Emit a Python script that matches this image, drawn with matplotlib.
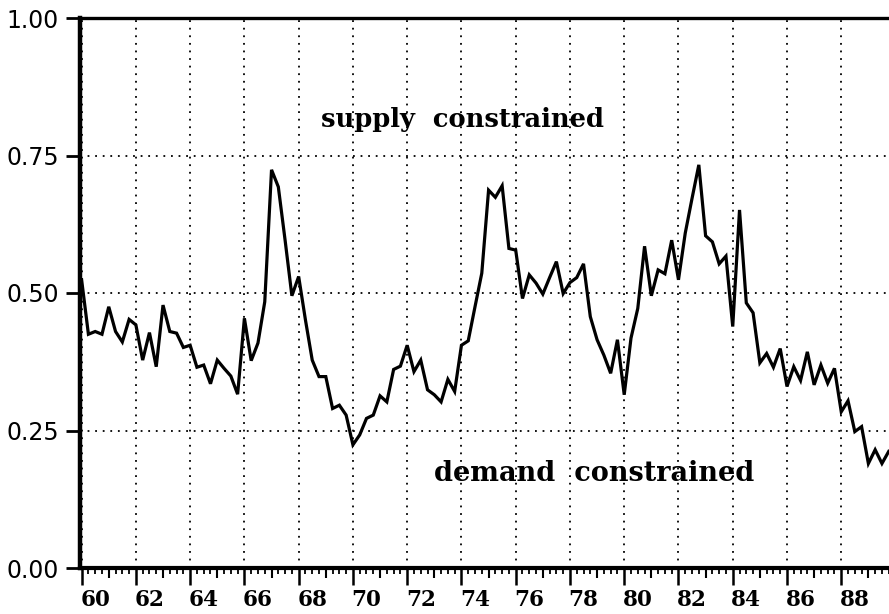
import numpy as np
import matplotlib
matplotlib.use("Agg")
import matplotlib.pyplot as plt

# ---- data (quarterly, 1960Q1 .. 1989Q4) ----
start_year = 1960
ratio = [
    0.524, 0.425, 0.430, 0.425,   # 60
    0.475, 0.430, 0.411, 0.452,   # 61
    0.442, 0.378, 0.428, 0.366,   # 62
    0.478, 0.430, 0.427, 0.401,   # 63
    0.405, 0.365, 0.369, 0.335,   # 64
    0.378, 0.363, 0.349, 0.316,   # 65
    0.454, 0.377, 0.409, 0.484,   # 66
    0.724, 0.693, 0.596, 0.495,   # 67
    0.530, 0.451, 0.378, 0.348,   # 68
    0.348, 0.290, 0.296, 0.278,   # 69
    0.224, 0.242, 0.272, 0.278,   # 70
    0.313, 0.302, 0.361, 0.367,   # 71
    0.405, 0.357, 0.378, 0.324,   # 72
    0.315, 0.302, 0.343, 0.321,   # 73
    0.405, 0.413, 0.475, 0.536,   # 74
    0.687, 0.674, 0.695, 0.581,   # 75
    0.578, 0.490, 0.533, 0.518,   # 76
    0.498, 0.528, 0.557, 0.499,   # 77
    0.519, 0.528, 0.553, 0.457,   # 78
    0.415, 0.387, 0.354, 0.415,   # 79
    0.315, 0.418, 0.472, 0.585,   # 80
    0.495, 0.542, 0.535, 0.596,   # 81
    0.524, 0.609, 0.672, 0.733,   # 82
    0.604, 0.593, 0.553, 0.567,   # 83
    0.439, 0.651, 0.482, 0.464,   # 84
    0.373, 0.390, 0.365, 0.399,   # 85
    0.330, 0.366, 0.341, 0.393,   # 86
    0.333, 0.369, 0.336, 0.363,   # 87
    0.284, 0.304, 0.248, 0.257,   # 88
    0.190, 0.215, 0.190, 0.212,   # 89
]
x_labels = ["60", "62", "64", "66", "68", "70", "72", "74", "76", "78",
            "80", "82", "84", "86", "88"]
y_ticks = [0.00, 0.25, 0.50, 0.75, 1.00]
y_labels = ["0.00", "0.25", "0.50", "0.75", "1.00"]
annot_top = "supply  constrained"
annot_bottom = "demand  constrained"

t = start_year + np.arange(len(ratio)) * 0.25

fig = plt.figure(figsize=(8.89, 6.14), dpi=100)
ax = fig.add_axes([80 / 889, 1 - 568 / 614, 1 - 80 / 889, (568 - 18) / 614])

ax.plot(t, ratio, color="black", lw=2.3, solid_joinstyle="miter", zorder=3)

ax.set_xlim(1959.94, 1989.76)
ax.set_ylim(0, 1)

# y axis
ax.set_yticks(y_ticks)
ax.set_yticklabels(y_labels, fontsize=17, family="DejaVu Sans")
ax.tick_params(axis="y", direction="out", length=10, width=2, pad=5, color="black")

# x axis: even-year long ticks (gridlines), quarter minor ticks
even_years = np.arange(1960, 1990, 2)
ax.set_xticks(even_years)
ax.set_xticklabels([])
ax.set_xticks(np.arange(1960, 1990, 0.25), minor=True)
ax.tick_params(axis="x", which="major", direction="out", length=12, width=1.8)
ax.tick_params(axis="x", which="minor", direction="out", length=4, width=1.3)

# odd-year medium ticks
sec_odd = ax.secondary_xaxis("bottom")
sec_odd.set_xticks(np.arange(1961, 1990, 2))
sec_odd.set_xticklabels([])
sec_odd.tick_params(length=7, width=1.5, direction="out")
for s in sec_odd.spines.values():
    s.set_visible(False)

# labels centred on mid-year
sec_lab = ax.secondary_xaxis("bottom")
sec_lab.set_xticks(even_years + 0.5)
sec_lab.set_xticklabels(x_labels, fontsize=15.5, family="DejaVu Serif", fontweight="bold")
sec_lab.tick_params(length=0, pad=15)
for s in sec_lab.spines.values():
    s.set_visible(False)

ax.grid(True, which="major", color="black", linestyle=(0, (1, 3.2)), linewidth=1.3)
ax.set_axisbelow(True)

ax.spines["left"].set_linewidth(3.2)
ax.spines["bottom"].set_linewidth(3.0)
ax.spines["top"].set_linewidth(2.4)
ax.spines["right"].set_visible(False)

ax.text(1974.05, 0.815, annot_top, ha="center", va="center",
        fontsize=18.5, family="DejaVu Serif", fontweight="bold")
ax.text(1978.9, 0.171, annot_bottom, ha="center", va="center",
        fontsize=19.5, family="DejaVu Serif", fontweight="bold")

fig.savefig("out.png", dpi=100)
